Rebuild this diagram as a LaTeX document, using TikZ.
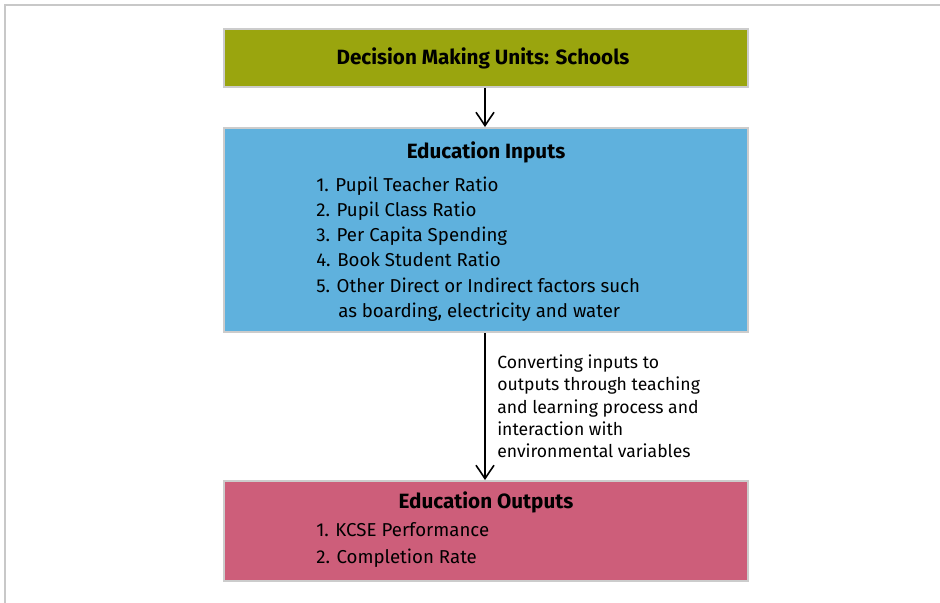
\documentclass[tikz,border=0pt]{standalone}
\usepackage{fontspec}
\setmainfont{Fira Sans}
\usetikzlibrary{arrows.meta}
\definecolor{dmugreen}{HTML}{9AA50E}
\definecolor{inputblue}{HTML}{5FB1DD}
\definecolor{outputpink}{HTML}{CD5E7A}
\definecolor{edgegray}{HTML}{CCCCCC}
\definecolor{framegray}{HTML}{C8C8C8}
\begin{document}
\begin{tikzpicture}[x=0.75pt, y=-0.75pt,
    box/.style={draw=edgegray, line width=1.5pt, minimum width=393pt, inner sep=0pt},
    title/.style={anchor=base, inner sep=0pt, font=\fontsize{15.5}{18}\selectfont\bfseries},
    item/.style={anchor=base west, inner sep=0pt, font=\fontsize{14}{17}\selectfont},
    note/.style={anchor=base west, inner sep=0pt, font=\fontsize{13.2}{15}\selectfont},
    flow/.style={-{Straight Barb[length=10pt, width=13.5pt]}, line width=1.2pt}]
    \useasboundingbox (0, 0) rectangle (940, 603);
    \draw[framegray, line width=1.5pt] (5, 603) -- (5, 5) -- (940, 5);
    % the three stages
    \node[box, fill=dmugreen, minimum height=43.5pt] (dmu) at (486, 58) {};
    \node[box, fill=inputblue, minimum height=153pt] (inputs) at (486, 230) {};
    \node[box, fill=outputpink, minimum height=75pt] (outputs) at (486, 531) {};
    \node[title] (dmutitle) at (483, 64) {Decision Making Units: Schools};
    \node[title] (inputstitle) at (486, 158.3) {Education Inputs};
    \node[item] (in1) at (316, 191) {1. Pupil Teacher Ratio};
    \node[item] (in2) at (316, 216.3) {2. Pupil Class Ratio};
    \node[item] (in3) at (316, 241.6) {3. Per Capita Spending};
    \node[item] (in4) at (316, 266.9) {4. Book Student Ratio};
    \node[item] (in5) at (316, 292.2) {5. Other Direct or Indirect factors such};
    \node[item] (in5b) at (338, 317.5) {as boarding, electricity and water};
    \node[title] (outputstitle) at (486, 508.3) {Education Outputs};
    \node[item] (out1) at (316, 536.7) {1. KCSE Performance};
    \node[item] (out2) at (316, 563.3) {2. Completion Rate};
    % arrows between the stages
    \draw[flow] (dmu.south -| 485, 0) -- (inputs.north -| 485, 0);
    \draw[flow] (inputs.south -| 485, 0) -- (outputs.north -| 485, 0);
    \node[note] (conv1) at (497, 368.3) {Converting inputs to};
    \node[note] (conv2) at (497, 390.7) {outputs through teaching};
    \node[note] (conv3) at (497, 413.1) {and learning process and};
    \node[note] (conv4) at (497, 435.5) {interaction with};
    \node[note] (conv5) at (497, 457.9) {environmental variables};
\end{tikzpicture}
\end{document}
